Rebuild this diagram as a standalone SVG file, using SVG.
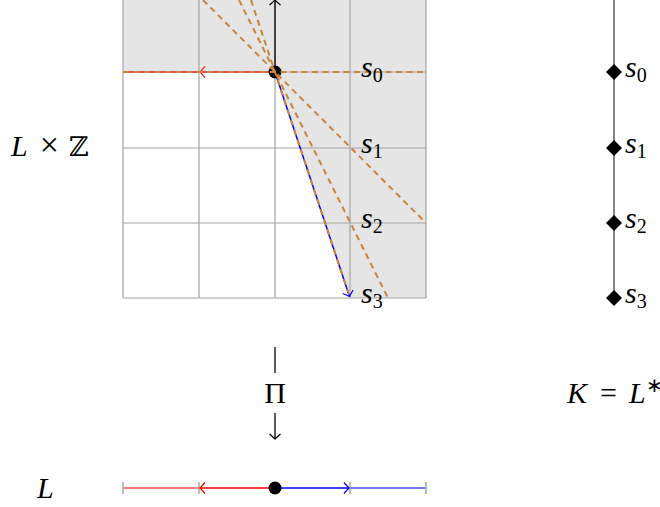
<svg xmlns="http://www.w3.org/2000/svg" xmlns:xlink="http://www.w3.org/1999/xlink" width="660" height="507" viewBox="0 0 660 507">
<style>
.grid{stroke:#a3a3a3;stroke-width:1.2;fill:none}
.dash{stroke:#c8853d;stroke-width:2;stroke-dasharray:6 4.5;fill:none}
.math{font-family:"Liberation Serif","Times New Roman",serif;font-size:30px;fill:#000}
.it{font-style:italic}
.sub{font-size:20px;font-style:normal}
.tick{stroke:#a8a8a8;stroke-width:1.5}
</style>
<defs>
<path id="ah" d="M-5,-5.5 Q-1.5,-1.5 0,0 Q-1.5,1.5 -5,5.5" fill="none" stroke-width="1.2"/>
<path id="dia" d="M0,-8 L8,0 L0,8 L-8,0 Z" fill="#000"/>
</defs>

<g id="plane">
<path d="M123,0 H426 V298 H350 L275,72 H123 Z" fill="#e5e5e5"/>
<g class="grid">
<line x1="123" y1="0" x2="123" y2="298"/>
<line x1="199" y1="0" x2="199" y2="298"/>
<line x1="275" y1="0" x2="275" y2="298"/>
<line x1="350" y1="0" x2="350" y2="298"/>
<line x1="426" y1="0" x2="426" y2="298"/>
<line x1="123" y1="72" x2="426" y2="72"/>
<line x1="123" y1="148" x2="426" y2="148"/>
<line x1="123" y1="223" x2="426" y2="223"/>
<line x1="123" y1="298" x2="426" y2="298"/>
</g>
</g>

<g id="connectors">
<line x1="275" y1="72" x2="275" y2="0" stroke="#000" stroke-width="1.3"/>
<use xlink:href="#ah" transform="translate(275,0) rotate(-90)" stroke="#000"/>
<line x1="123" y1="72" x2="275" y2="72" stroke="#ff2020" stroke-width="1.6"/>
<use xlink:href="#ah" transform="translate(200,72) rotate(180)" stroke="#ff2020"/>
<line x1="275" y1="72" x2="349.5" y2="296.5" stroke="#0000ff" stroke-width="1.5"/>
<use xlink:href="#ah" transform="translate(349.5,296.5) rotate(71.6)" stroke="#0000ff"/>

<line x1="275" y1="347" x2="275" y2="373" stroke="#000" stroke-width="1.3"/>
<line x1="275" y1="413" x2="275" y2="439" stroke="#000" stroke-width="1.3"/>
<use xlink:href="#ah" transform="translate(275,439) rotate(90)" stroke="#000"/>

<line x1="123" y1="488" x2="199" y2="488" stroke="#ff4a4a" stroke-width="1.4"/>
<line x1="199" y1="488" x2="275" y2="488" stroke="#ff0000" stroke-width="1.6"/>
<line x1="275" y1="488" x2="350" y2="488" stroke="#0000ff" stroke-width="1.6"/>
<line x1="350" y1="488" x2="426" y2="488" stroke="#4a4aff" stroke-width="1.4"/>
<line class="tick" x1="123" y1="482" x2="123" y2="494"/>
<line class="tick" x1="199" y1="482" x2="199" y2="494"/>
<line class="tick" x1="350" y1="482" x2="350" y2="494"/>
<line class="tick" x1="426" y1="482" x2="426" y2="494"/>
<use xlink:href="#ah" transform="translate(200,488) rotate(180)" stroke="#ff0000"/>
<use xlink:href="#ah" transform="translate(349,488)" stroke="#0000ff"/>

<line x1="614" y1="0" x2="614" y2="298" stroke="#333" stroke-width="1.2"/>
</g>

<g id="origin"><circle cx="275" cy="72" r="6.5" fill="#000"/></g>

<g id="slopes">
<line class="dash" x1="123" y1="72" x2="426" y2="72"/>
<line class="dash" x1="203" y1="0" x2="426" y2="223"/>
<line class="dash" x1="239" y1="0" x2="388" y2="298"/>
<line class="dash" x1="251" y1="0" x2="350" y2="298"/>
</g>

<g id="origin-L"><circle cx="275" cy="488" r="6.5" fill="#000"/></g>

<g id="labels-left">
<text class="math it" x="361" y="77">s<tspan class="sub" dy="5">0</tspan></text>
<text class="math it" x="361" y="153">s<tspan class="sub" dy="5">1</tspan></text>
<text class="math it" x="361" y="228">s<tspan class="sub" dy="5">2</tspan></text>
<text class="math it" x="361" y="303">s<tspan class="sub" dy="5">3</tspan></text>
</g>

<g id="K">
<use xlink:href="#dia" x="614" y="72"/>
<use xlink:href="#dia" x="614" y="148"/>
<use xlink:href="#dia" x="614" y="223"/>
<use xlink:href="#dia" x="614" y="298"/>
<text class="math it" x="625" y="77">s<tspan class="sub" dy="5">0</tspan></text>
<text class="math it" x="625" y="153">s<tspan class="sub" dy="5">1</tspan></text>
<text class="math it" x="625" y="228">s<tspan class="sub" dy="5">2</tspan></text>
<text class="math it" x="625" y="303">s<tspan class="sub" dy="5">3</tspan></text>
</g>

<g id="titles">
<text class="math" x="11" y="156"><tspan class="it">L</tspan><tspan dx="12" font-size="34">×</tspan><tspan dx="10" font-family="DejaVu Serif,serif" font-size="27">ℤ</tspan></text>
<text class="math" x="275" y="403" text-anchor="middle">Π</text>
<text class="math it" x="37" y="498">L</text>
<text class="math" x="567" y="403"><tspan class="it">K</tspan><tspan dx="13">=</tspan><tspan class="it" dx="12">L</tspan><tspan font-size="20" dy="-11">∗</tspan></text>
</g>
</svg>
